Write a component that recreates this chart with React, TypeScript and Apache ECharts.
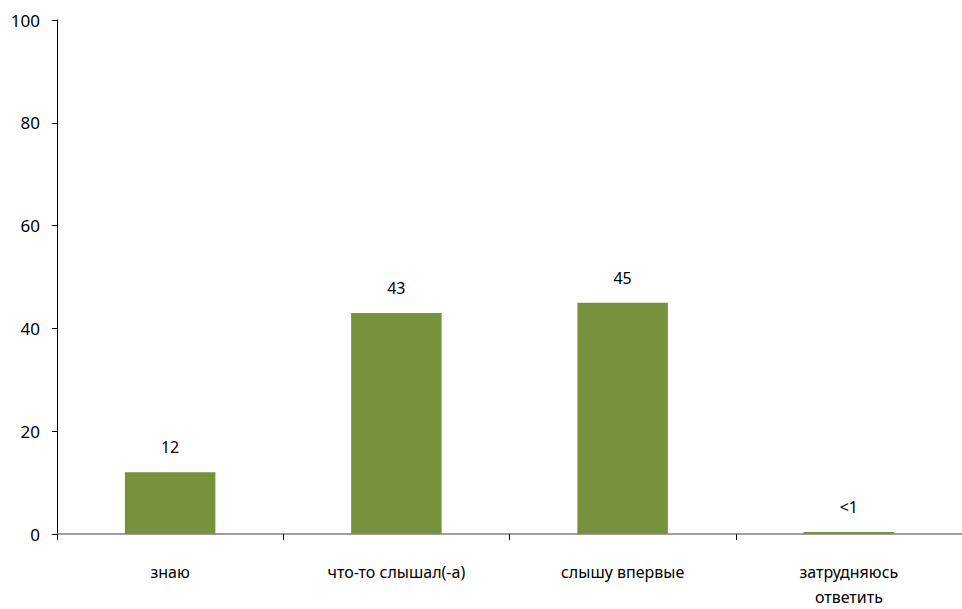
import React, { useEffect, useRef } from "react";
import * as echarts from "echarts";

const categories = ["знаю", "что-то слышал(-а)", "слышу впервые", "затрудняюсь\nответить"];
const values = [12, 43, 45, 0.4];
const valueLabels = ["12", "43", "45", "<1"];
const yTicks = { min: 0, max: 100, interval: 20 };

export default function App() {
  const ref = useRef<HTMLDivElement>(null);
  useEffect(() => {
    if (!ref.current) return;
    const chart = echarts.init(ref.current, null, { renderer: "svg" });
    const font = "'Noto Sans', sans-serif";
    chart.setOption({
      animation: false,
      grid: { left: 57, top: 20, height: 520, width: 910, containLabel: false },
      xAxis: {
        type: "category",
        data: categories,
        axisLine: { lineStyle: { color: "#808080", width: 1.5 } },
        axisTick: { show: true, length: 6, alignWithLabel: false, lineStyle: { color: "#000" } },
        axisLabel: { color: "#000", fontSize: 16, fontFamily: font, margin: 25, lineHeight: 25, interval: 0 },
      },
      yAxis: {
        type: "value",
        min: yTicks.min,
        max: yTicks.max,
        interval: yTicks.interval,
        splitLine: { show: false },
        axisLine: { show: true, lineStyle: { color: "#000", width: 1 } },
        axisTick: { show: true, length: 5, lineStyle: { color: "#000" } },
        axisLabel: { color: "#000", fontSize: 17, fontFamily: font, margin: 17 },
      },
      series: [
        {
          type: "bar",
          data: values,
          barWidth: "40%",
          itemStyle: { color: "#76923C" },
          label: {
            show: true,
            position: "top",
            distance: 17,
            color: "#000",
            fontSize: 16,
            fontFamily: font,
            formatter: (p: any) => valueLabels[p.dataIndex],
          },
        },
      ],
    });
    return () => chart.dispose();
  }, []);
  return <div ref={ref} style={{ width: 962, height: 609, position: "absolute", left: 0, top: 0 }} />;
}
